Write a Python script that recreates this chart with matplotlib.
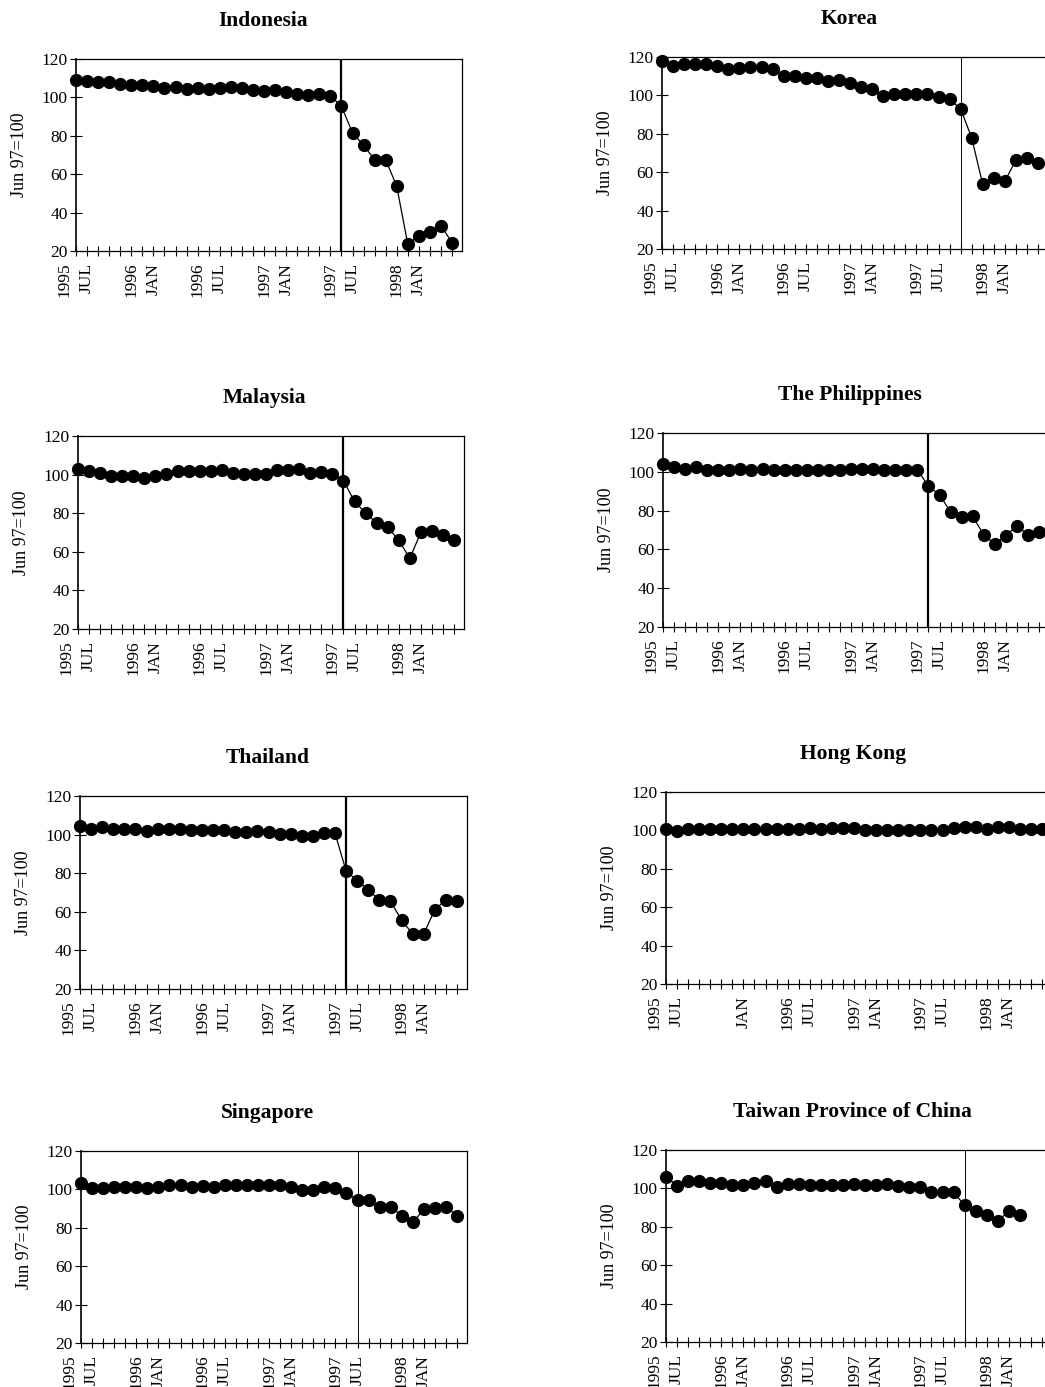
import matplotlib
matplotlib.use("Agg")
import matplotlib.pyplot as plt
import numpy as np

plt.rcParams['font.family'] = ['Liberation Serif', 'DejaVu Serif']

# monthly index, Jun 97 = 100, one point per month from mid-1995
indonesia = [109.3, 108.7, 108.0, 108.2, 107.2, 106.6, 106.6, 106.0, 105.0, 105.2,
             104.4, 105.0, 104.4, 104.7, 105.2, 104.7, 104.0, 103.5, 103.7, 103.0,
             101.9, 101.4, 101.6, 100.9, 95.3, 81.6, 75.0, 67.6, 67.6, 53.7,
             23.5, 28.0, 29.7, 33.2, 24.3]
korea = [117.9, 115.5, 116.3, 116.3, 116.3, 115.3, 113.6, 114.4, 114.6, 114.6,
         113.9, 110.1, 110.1, 108.9, 108.9, 107.7, 108.0, 106.3, 104.2, 103.3,
         99.8, 100.7, 100.7, 100.7, 100.7, 99.1, 97.9, 93.0, 77.9, 53.6,
         57.2, 55.3, 66.3, 67.5, 64.9]
malaysia = [102.8, 101.7, 100.7, 99.3, 99.1, 99.1, 98.4, 99.3, 100.2, 101.9,
            101.9, 101.9, 101.9, 102.3, 101.0, 100.2, 100.2, 100.2, 102.6, 102.6,
            102.8, 100.9, 101.2, 100.2, 96.9, 86.1, 80.0, 75.0, 72.7, 66.0,
            56.6, 70.1, 70.7, 68.8, 66.1]
philippines = [104.0, 102.6, 101.2, 102.6, 100.7, 100.7, 100.7, 101.2, 100.7, 101.6,
               101.0, 101.0, 101.0, 101.0, 101.0, 101.0, 101.0, 101.2, 101.2, 101.2,
               100.7, 101.0, 101.0, 101.0, 92.6, 88.2, 79.3, 76.7, 77.0, 67.5,
               62.8, 67.0, 72.3, 67.5, 69.0]
thailand = [104.2, 102.8, 103.8, 102.8, 102.8, 102.8, 102.1, 102.8, 102.8, 103.1,
            102.3, 102.3, 102.3, 102.3, 101.6, 101.6, 101.9, 101.2, 100.3, 100.3,
            99.5, 99.5, 100.7, 100.7, 81.1, 76.2, 71.4, 66.1, 65.5, 55.6,
            48.6, 48.6, 61.1, 66.3, 65.5]
hong_kong = [100.5, 99.7, 100.7, 100.7, 100.7, 100.7, 100.7, 100.7, 100.7, 100.7,
             100.7, 100.7, 100.7, 101.0, 100.9, 101.0, 101.0, 101.0, 100.0, 100.0,
             100.0, 100.0, 100.0, 100.2, 100.2, 100.3, 101.4, 101.7, 101.9, 100.7,
             102.0, 101.7, 100.7, 100.7, 100.7]
singapore = [103.1, 100.5, 100.5, 101.4, 101.4, 101.4, 100.5, 101.4, 102.3, 102.3,
             101.4, 101.7, 101.4, 102.3, 102.3, 102.3, 102.3, 102.3, 102.3, 101.0,
             99.7, 99.7, 101.0, 100.5, 97.9, 94.5, 94.5, 91.0, 91.0, 86.3,
             82.8, 89.6, 90.1, 91.0, 86.3]
taiwan = [106.1, 101.4, 103.6, 104.0, 102.6, 102.6, 101.7, 101.7, 102.8, 103.6,
          100.5, 102.3, 102.3, 101.9, 101.9, 101.9, 101.9, 102.3, 101.9, 101.9,
          102.3, 101.4, 100.5, 100.9, 97.9, 97.9, 97.9, 91.3, 88.0, 86.3,
          83.2, 88.0, 86.3]

titles = ["Indonesia", "Korea", "Malaysia", "The Philippines",
          "Thailand", "Hong Kong", "Singapore", "Taiwan Province of China"]
series = [indonesia, korea, malaysia, philippines,
          thailand, hong_kong, singapore, taiwan]
# month index of the crisis marker line (None = no line)
crisis_at = [24, 27, 24, 24, 24, None, 25, 27]
crisis_bold = [True, False, True, True, True, False, False, False]

label_pos = [-1, 1, 5, 7, 11, 13, 17, 19, 23, 25, 29, 31]
label_txt = ["1995", "JUL", "1996", "JAN", "1996", "JUL",
             "1997", "JAN", "1997", "JUL", "1998", "JAN"]
hk_label_pos = [-1, 1, 7, 11, 13, 17, 19, 23, 25, 29, 31]
hk_label_txt = ["1995", "JUL", "JAN", "1996", "JUL",
                "1997", "JAN", "1997", "JUL", "1998", "JAN"]

# axes boxes in pixels: left, top, right, bottom
boxes = [(76, 59, 462, 251), (662, 57, 1048, 249),
         (78, 436, 464, 629), (663, 433, 1049, 627),
         (80, 796, 467, 989), (666, 792, 1052, 984),
         (81, 1151, 467, 1343), (666, 1150, 1052, 1342)]

W, H = 1045, 1387
fig = plt.figure(figsize=(W / 100, H / 100), dpi=100)

for k in range(8):
    l, t, r, b = boxes[k]
    ax = fig.add_axes([l / W, 1 - b / H, (r - l) / W, (b - t) / H])
    y = series[k]
    x = np.arange(len(y))
    ax.plot(x, y, '-', color='black', lw=0.9, marker='o', ms=8.5,
            mfc='black', mec='black', clip_on=False, zorder=3)
    if crisis_at[k] is not None:
        ax.axvline(crisis_at[k], color='black',
                   lw=1.6 if crisis_bold[k] else 0.7, zorder=2)
    ax.set_xlim(0, 34.9)
    ax.set_ylim(20, 120)
    ax.set_yticks(np.arange(20, 121, 20))
    ax.set_xticks(np.arange(0, 35))
    ax.tick_params(axis='x', direction='inout', length=7, width=0.8,
                   labelbottom=False)
    ax.tick_params(axis='y', direction='inout', length=8, width=0.8,
                   labelsize=12.5, pad=2)
    for s in ax.spines.values():
        s.set_linewidth(0.9)
    ax.spines['left'].set_linewidth(1.2)
    ax.set_ylabel("Jun 97=100", fontsize=13)
    ax.yaxis.set_label_coords(-0.125, 0.5)
    ax.annotate(titles[k], xy=(0.484, 1), xycoords='axes fraction',
                xytext=(0, 23.8), textcoords='offset points',
                ha='center', va='baseline', fontsize=15.5, fontweight='bold')
    if titles[k] == "Hong Kong":
        pos, txt = hk_label_pos, hk_label_txt
    else:
        pos, txt = label_pos, label_txt
    for p, s in zip(pos, txt):
        ax.annotate(s, xy=(p, 0), xycoords=ax.get_xaxis_transform(),
                    xytext=(0, -8.5), textcoords='offset points',
                    rotation=90, ha='center', va='top', fontsize=12.5,
                    annotation_clip=False)

fig.savefig("out.png", dpi=100)
